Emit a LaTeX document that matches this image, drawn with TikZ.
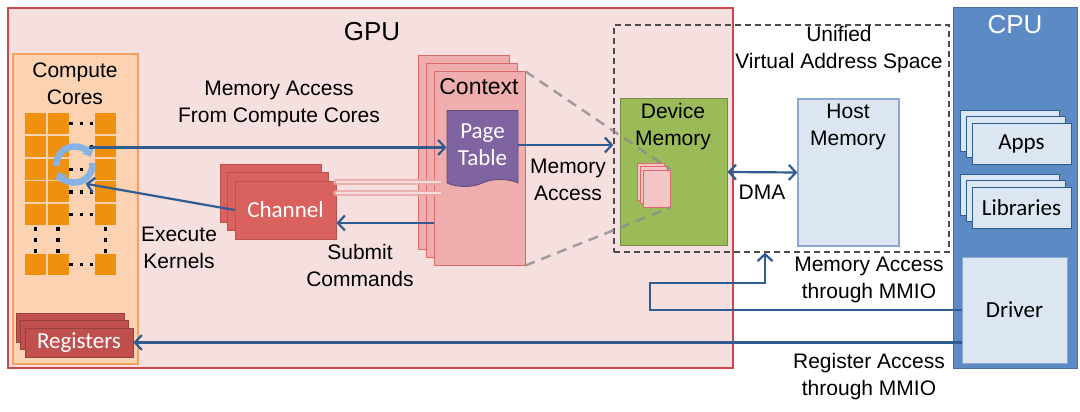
\documentclass[tikz,border=0pt]{standalone}
\usepackage{fontspec}
\setmainfont{Liberation Sans}
\newfontfamily\boxfont{Carlito}
\usetikzlibrary{arrows.meta,shapes.symbols}
\definecolor{gpubg}{HTML}{F6DFDF}
\definecolor{gpuline}{HTML}{C9494A}
\definecolor{ccbg}{HTML}{FBD3B2}
\definecolor{ccline}{HTML}{F4A060}
\definecolor{core}{HTML}{F0900F}
\definecolor{chred}{HTML}{D9625E}
\definecolor{ctxbg}{HTML}{EFAEAD}
\definecolor{ctxline}{HTML}{DD6A6A}
\definecolor{ptbg}{HTML}{8064A2}
\definecolor{devbg}{HTML}{9BBB59}
\definecolor{hostbg}{HTML}{DCE6F2}
\definecolor{hostline}{HTML}{8CA8D2}
\definecolor{cpubg}{HTML}{5B8AC5}
\definecolor{arrblue}{HTML}{2F5D91}
\definecolor{cycblue}{HTML}{86B3E3}
\definecolor{regred}{HTML}{C0504D}
\begin{document}
\begin{tikzpicture}[x=1pt,y=-1pt,
  every node/.style={font=\fontsize{21}{27}\selectfont, align=center, inner sep=0pt},
  >={Straight Barb[length=7pt,width=15pt]},
  arr/.style={draw=arrblue, line width=2.2pt, ->},
  whitetxt/.style={text=white, font=\boxfont\fontsize{23}{27}\selectfont},
  regbox/.style={draw=regred!80!black, fill=regred, line width=.8pt, minimum width=108pt, minimum height=29pt, whitetxt},
  chbox/.style={draw=chred!85!black, fill=chred, line width=.8pt, minimum width=101pt, minimum height=58pt, whitetxt},
  ctxbox/.style={draw=ctxline, fill=ctxbg, line width=1pt, minimum width=91pt, minimum height=193pt},
  pagebox/.style={draw=ctxline, fill=ctxbg!70, line width=1pt, minimum width=27pt, minimum height=37pt},
  cpuitem/.style={draw=arrblue, fill=hostbg, line width=.8pt, minimum width=99pt, minimum height=41pt, font=\boxfont\fontsize{23}{27}\selectfont}]
\useasboundingbox (0,0) rectangle (1080,412);

% GPU side
\node[draw=gpuline, fill=gpubg, line width=1.2pt, minimum width=725pt, minimum height=360pt] (gpu) at (370.5,188) {};
\node[font=\fontsize{26}{30}\selectfont] (gpul) at (372,32) {GPU};

\node[draw=ccline, fill=ccbg, line width=1.2pt, minimum width=125pt, minimum height=310pt] (cc) at (75.5,209) {};
\node (ccl) at (75,84) {Compute\\Cores};

% compute cores grid
\foreach \r in {0,...,4}{
  \foreach \c in {25,47.5,95}
    \fill[core] (\c,113+\r*22.8) rectangle ++(21,21);
  \foreach \d in {71,81.5,91.5}
    \fill (\d-1.6,123.5+\r*22.8-1.6) rectangle ++(3.2,3.2);
}
\foreach \c in {25,47.5,95}{
  \fill[core] (\c,254) rectangle ++(21,21);
  \foreach \d in {229,240,251}
    \fill (\c+10.5-1.6,\d-1.6) rectangle ++(3.2,3.2);
}
\foreach \d in {71,81.5,91.5}
  \fill (\d-1.6,264.5-1.6) rectangle ++(3.2,3.2);

\node[circle, minimum size=44pt] (cyc) at (74.5,164.5) {};
\draw[cycblue, line width=6.5pt, -{Triangle[length=7pt,width=13pt]}] (cyc.center) ++(175:18) arc (175:335:18);
\draw[cycblue, line width=6.5pt, -{Triangle[length=7pt,width=13pt]}] (cyc.center) ++(-5:18) arc (-5:155:18);

\foreach \s in {2,1}
  \node[regbox] (regs-\s) at (79-4.5*\s,342.5-7.5*\s) {};
\node[regbox] (regs) at (79,342.5) {Registers};

\foreach \s in {2,1}
  \node[chbox] (ch-\s) at (285.5-7.5*\s,210-8.5*\s) {};
\node[chbox] (ch) at (285.5,210) {Channel};

\foreach \s in {2,1}
  \node[ctxbox] (ctx-\s) at (479.5-8*\s,168.5-8*\s) {};
\node[ctxbox] (ctx) at (479.5,168.5) {};
\node[font=\fontsize{23}{27}\selectfont] (ctxl) at (479,87) {Context};
\node[tape, tape bend top=none, tape bend bottom=in and out, tape bend height=7pt,
  draw=ptbg!75!black, fill=ptbg, line width=.8pt, minimum width=71pt, minimum height=76pt,
  whitetxt] (pt) at (482.5,145) {Page\\Table};

% red links channel - context
\foreach \y in {28,17}
  \draw[draw=chred!55, double=chred!15, double distance=2.5pt, line width=2.2pt, line cap=round, opacity=.85]
    ([yshift=\y pt]ch.east) -- ++(104,0);

% text labels in GPU
\node (mafc) at (279,104) {Memory Access\\From Compute Cores};
\node (exk) at (179,248) {Execute\\Kernels};
\node (subc) at (360,265) {Submit\\Commands};
\node (mac) at (568,180) {Memory\\Access};

% unified address space
\node[draw=black!70, dash pattern=on 6pt off 4pt, line width=1.3pt, minimum width=335pt, minimum height=227pt] (uva) at (781.5,138.5) {};
\node (uval) at (839,50) {Unified\\Virtual Address Space};

\node[draw=devbg!75!black, fill=devbg, line width=1pt, minimum width=107pt, minimum height=146pt] (dev) at (673.5,172) {};
\node (devl) at (673,127) {Device\\Memory};
\node[draw=hostline, fill=hostbg, line width=1.2pt, minimum width=101pt, minimum height=147pt] (host) at (848.5,172.5) {};
\node (hostl) at (848,127) {Host\\Memory};

\foreach \s in {2,1}
  \node[pagebox] (dstk-\s) at (656.5-3*\s,188.5-3.5*\s) {};
\node[pagebox] (dstk) at (656.5,188.5) {};

\draw[black!45, line width=2.5pt, dash pattern=on 10pt off 7pt, opacity=.8] (ctx.north east) -- (dstk.north east);
\draw[black!45, line width=2.5pt, dash pattern=on 10pt off 7pt, opacity=.8] (ctx.south east) -- (dstk.south east);

% CPU side
\node[draw=cpubg!80!black, fill=cpubg, line width=.8pt, minimum width=124pt, minimum height=361pt] (cpu) at (1015,187.5) {};
\node[text=white, font=\fontsize{26}{30}\selectfont] (cpul) at (1015,25) {CPU};
\foreach \s in {2,1}
  \node[cpuitem] (apps-\s) at (1021.5-6*\s,143.5-6.5*\s) {};
\node[cpuitem] (apps) at (1021.5,143.5) {Apps};
\foreach \s in {2,1}
  \node[cpuitem] (libs-\s) at (1021.5-6*\s,207.5-6.5*\s) {};
\node[cpuitem] (libs) at (1021.5,207.5) {Libraries};
\node[cpuitem, draw=hostline, minimum width=105pt, minimum height=106pt] (drv) at (1014.5,310) {Driver};

% connectors
\draw[arr] (cyc.50) -- (cyc.50 -| pt.west);
\draw[arr] (ch.west) -- (cyc.-60);
\draw[arr] ([yshift=-13pt]ch.east -| ctx.west) -- ([yshift=-13pt]ch.east);
\draw[arr] (pt.east) -- (pt.east -| uva.west);
\draw[arr, <->] (dev.east) -- (host.west);
\node (dma) at (762,192) {DMA};

\coordinate (mmio) at (765,283);
\draw[arr] (drv.west) -- (650,310) |- (mmio) -- (mmio |- uva.south);
\node (mmiol) at (869,280) {Memory Access\\through MMIO};
\draw[arr] (drv.west |- regs.east) -- (regs.east);
\node (regl) at (869,377) {Register Access\\through MMIO};
\end{tikzpicture}
\end{document}
